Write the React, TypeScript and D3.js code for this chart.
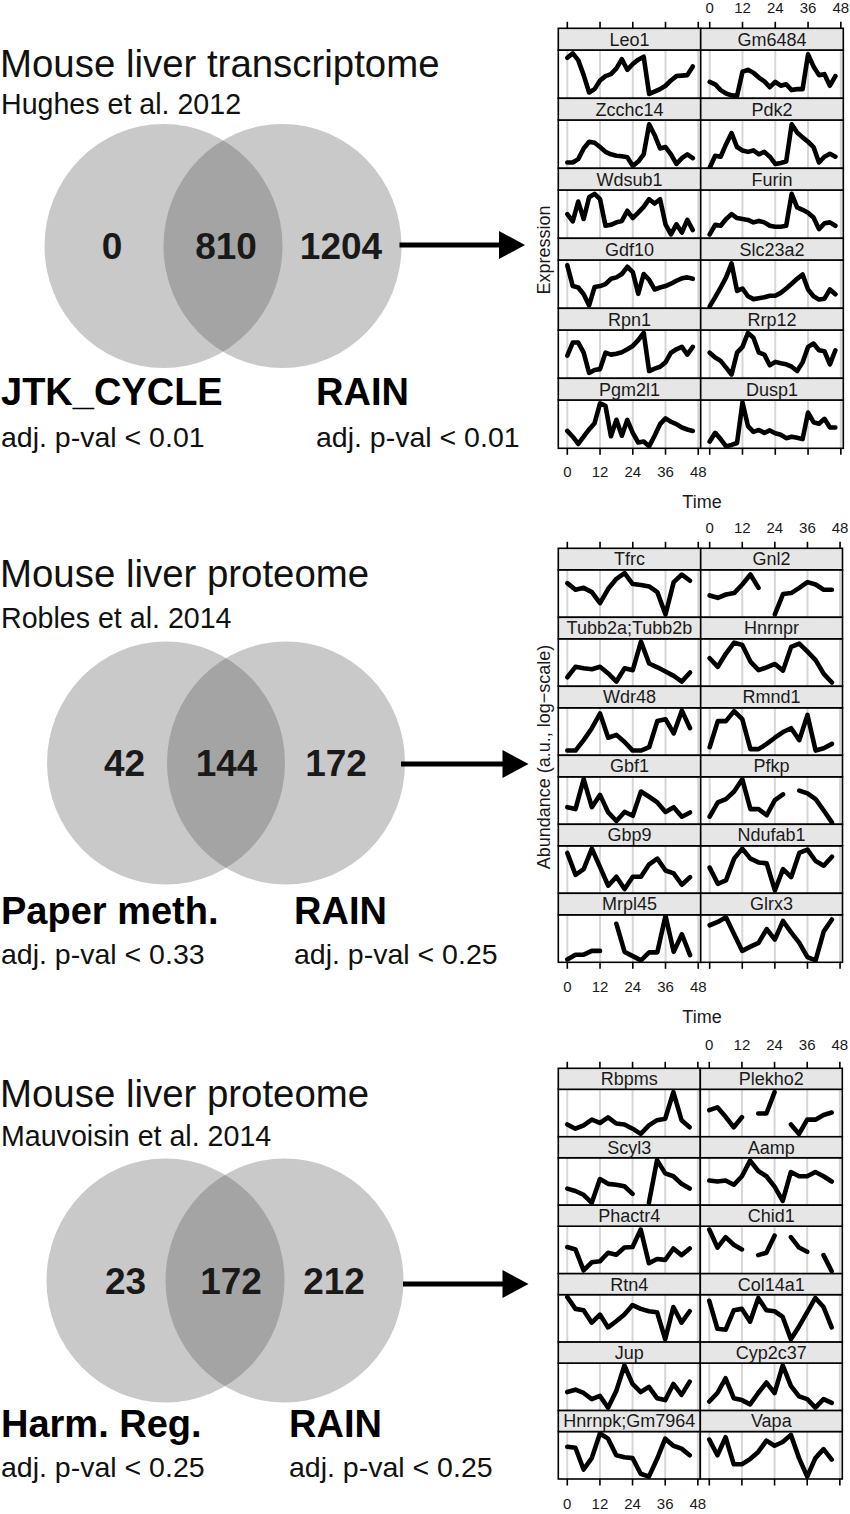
import React from "react";
import * as d3 from "d3";

const FONT = "'Liberation Sans', Arial, Helvetica, sans-serif";

// ---------- time axes ----------
const HOURS_TX = [0, 2, 4, 6, 8, 10, 12, 14, 16, 18, 20, 22, 24, 26, 28, 30, 32, 34, 36, 38, 40, 42, 44, 46];
const HOURS_PR = [0, 3, 6, 9, 12, 15, 18, 21, 24, 27, 30, 33, 36, 39, 42, 45];
const TIME_TICKS = [0, 12, 24, 36, 48];

// ---------- Venn data ----------
const vennTitles = ["Mouse liver transcriptome", "Mouse liver proteome", "Mouse liver proteome"];
const vennSources = ["Hughes et al. 2012", "Robles et al. 2014", "Mauvoisin et al. 2014"];
const vennCounts = [
  [0, 810, 1204],
  [42, 144, 172],
  [23, 172, 212],
];
const methodLeft = ["JTK_CYCLE", "Paper meth.", "Harm. Reg."];
const methodRight = ["RAIN", "RAIN", "RAIN"];
const thresholdLeft = ["adj. p-val < 0.01", "adj. p-val < 0.33", "adj. p-val < 0.25"];
const thresholdRight = ["adj. p-val < 0.01", "adj. p-val < 0.25", "adj. p-val < 0.25"];
const yAxisLabels = ["Expression", "Abundance (a.u., log\u2212scale)", ""];

// ---------- Hughes 2012 transcriptome (relative expression, 2h sampling) ----------
const hughesGenes = ["Leo1", "Gm6484", "Zcchc14", "Pdk2", "Wdsub1", "Furin", "Gdf10", "Slc23a2", "Rpn1", "Rrp12", "Pgm2l1", "Dusp1"];
const hughesSeries: (number | null)[][] = [
  [84, 93, 79, 48, 12, 19, 37, 46, 50, 62, 81, 59, 71, 80, 86, 9, 14, 19, 26, 37, 46, 47, 48, 66],
  [34, 29, 17, 10, 6, 5, 55, 59, 53, 43, 35, 23, 34, 26, 29, 17, 19, 19, 91, 66, 48, 50, 26, 46],
  [12, 12, 19, 41, 55, 53, 44, 34, 29, 26, 25, 23, 5, 14, 29, 91, 69, 41, 44, 29, 9, 21, 29, 21],
  [1, 26, 24, 50, 73, 44, 37, 34, 37, 29, 34, 24, 9, 11, 14, 91, 74, 64, 55, 44, 12, 24, 30, 24],
  [50, 35, 76, 40, 85, 92, 81, 26, 28, 33, 36, 57, 42, 53, 65, 81, 72, 81, 29, 8, 29, 12, 38, 17],
  [8, 28, 26, 40, 50, 42, 40, 38, 33, 36, 33, 26, 24, 24, 26, 92, 64, 59, 53, 43, 19, 31, 33, 26],
  [89, 46, 43, 29, 6, 44, 46, 50, 61, 64, 71, 86, 75, 30, 71, 59, 39, 43, 46, 51, 57, 62, 64, 61],
  [4, 23, 43, 64, 93, 36, 41, 25, 19, 21, 23, 26, 26, 32, 41, 51, 61, 70, 39, 25, 18, 20, 39, 29],
  [47, 74, 74, 53, 11, 17, 19, 53, 49, 51, 54, 60, 67, 79, 94, 15, 20, 24, 33, 53, 60, 65, 49, 65],
  [53, 43, 36, 22, 8, 53, 65, 94, 84, 53, 49, 27, 34, 31, 29, 24, 15, 33, 65, 72, 58, 56, 29, 58],
  [36, 24, 9, 24, 39, 52, 93, 88, 25, 59, 26, 59, 32, 12, 14, 4, 26, 50, 62, 55, 50, 43, 39, 36],
  [14, 32, 19, 4, 7, 11, 95, 46, 34, 38, 32, 37, 31, 28, 21, 24, 22, 19, 74, 54, 51, 61, 43, 43],
];

// ---------- Robles 2014 proteome (3h sampling, null = missing) ----------
const roblesGenes = ["Tfrc", "Gnl2", "Tubb2a;Tubb2b", "Hnrnpr", "Wdr48", "Rmnd1", "Gbf1", "Pfkp", "Gbp9", "Ndufab1", "Mrpl45", "Glrx3"];
const roblesSeries: (number | null)[][] = [
  [72, 58, 62, 53, 30, 60, 81, 93, 70, 68, 65, 53, 6, 74, 90, 77],
  [46, 41, 48, 51, 69, 90, 62, null, 6, 49, 51, 62, 74, 69, 58, 58],
  [19, 41, 38, 36, 41, 27, 10, 38, 34, 94, 48, 40, 31, 22, 10, 29],
  [59, 41, 69, 92, 87, 52, 34, 40, 47, 33, 83, 90, 73, 55, 26, 8],
  [10, 10, 32, 57, 88, 37, 43, 28, 10, 10, 17, 72, 76, 46, 94, 57],
  [17, 72, 72, 93, 76, 13, 13, 24, 37, 49, 57, 32, 85, 10, 15, 24],
  [36, 32, 95, 36, 62, 25, 7, 26, 18, 69, 58, 46, 26, 36, 16, 25],
  [16, 46, 53, 69, 95, 32, 32, 19, 51, 63, null, 71, 65, 53, 29, 4],
  [85, 39, 51, 94, 55, 16, 35, 9, 35, 35, 61, 73, 48, 42, 18, 34],
  [54, 20, 27, 73, 94, 73, 65, 63, 6, 51, 34, 85, 92, 68, 58, 77],
  [6, 16, 16, 24, 24, null, 81, 22, 13, 4, 21, 21, 98, 22, 59, 15],
  [78, 85, 95, 59, 24, 33, 41, 70, 48, 87, 63, 41, 11, 4, 65, 90],
];

// ---------- Mauvoisin 2014 proteome (3h sampling, null = missing) ----------
const mauvoisinGenes = ["Rbpms", "Plekho2", "Scyl3", "Aamp", "Phactr4", "Chid1", "Rtn4", "Col14a1", "Jup", "Cyp2c37", "Hnrnpk;Gm7964", "Vapa"];
const mauvoisinSeries: (number | null)[][] = [
  [26, 17, 24, 36, 29, 41, 28, 26, 17, 6, 24, 35, 38, 94, 35, 20],
  [56, 62, 42, 20, 41, null, 49, 49, 94, null, 26, 6, 36, 36, 46, 51],
  [35, 30, 22, 5, 55, 45, 43, 40, 24, null, 5, 95, 67, 61, 45, 35],
  [52, 50, 52, 43, 61, 94, 72, 61, 39, 9, 70, 61, 61, 70, 61, 50],
  [56, 51, 7, 24, 26, 44, 40, 55, 56, 93, 22, 31, 29, 53, 39, 53],
  [93, 55, 77, 61, 51, null, 39, 44, 80, null, 77, 55, 46, null, 39, 5],
  [95, 70, 67, 41, 58, 31, 44, 58, 78, 70, 65, 63, 6, 74, 41, 65],
  [87, 28, 26, 67, 70, 43, 93, 67, 65, 53, 6, 33, 63, 93, 74, 31],
  [39, 44, 37, 24, 31, 6, 41, 95, 56, 39, 50, 26, 22, 56, 33, 61],
  [19, 37, 68, 26, 22, 13, 37, 59, 37, 95, 52, 30, 24, 6, 24, 16],
  [68, 66, 20, 44, 96, 85, 50, 46, 44, 11, 5, 42, 85, 70, 64, 50],
  [83, 50, 88, 31, 31, 42, 57, 81, 70, 78, 93, 44, 5, 44, 63, 41],
];

// ---------- layout ----------
const VENN_LAYOUT = [
  { titleY: 76.5, srcY: 114.4, cy: 246, cxL: 163.5, cxR: 282.5, rx: 119, ry: 122, numY: 259, numX: [112, 226, 341], arrowY: 245, arrowX1: 399.5, arrowX2: 525, methY: 405.4, rightX: 316, thrY: 446.7 },
  { titleY: 586.5, srcY: 627.8, cy: 763, cxL: 166, cxR: 286, rx: 119, ry: 121.5, numY: 776, numX: [124.6, 226.6, 336], arrowY: 764, arrowX1: 401, arrowX2: 528.5, methY: 924, rightX: 294, thrY: 963.6 },
  { titleY: 1106.5, srcY: 1146.3, cy: 1280.5, cxL: 165.5, cxR: 284.5, rx: 119, ry: 122, numY: 1294.4, numX: [125.6, 231, 334], arrowY: 1284, arrowX1: 403, arrowX2: 528.5, methY: 1437.3, rightX: 289, thrY: 1476.9 },
];

const SM_LAYOUT = [
  { left: 558.3, mid: 700.7, right: 843.3, top: 28.3, rowH: 70, stripH: 21.7, topLabY: 13, botLabY: 477.3, timeY: 508, ylabY: 250 },
  { left: 558.3, mid: 700.7, right: 842.5, top: 548.3, rowH: 69, stripH: 21.5, topLabY: 533.3, botLabY: 992.3, timeY: 1023, ylabY: 757 },
  { left: 558.3, mid: 700.3, right: 842.3, top: 1068.3, rowH: 68.45, stripH: 21, topLabY: 1050, botLabY: 1509, timeY: null as number | null, ylabY: null as number | null },
];

const X_DOMAIN: [number, number] = [-3.3, 48.9];

function Venn({ idx }: { idx: number }) {
  const L = VENN_LAYOUT[idx];
  const clipId = `venn-clip-${idx}`;
  const counts = vennCounts[idx];
  return (
    <g>
      <defs>
        <clipPath id={clipId}>
          <ellipse cx={L.cxL} cy={L.cy} rx={L.rx} ry={L.ry} />
        </clipPath>
      </defs>
      <text x={0} y={L.titleY} fontSize={38.4} fontFamily={FONT} fill="#111">{vennTitles[idx]}</text>
      <text x={1} y={L.srcY} fontSize={28.6} fontFamily={FONT} fill="#111">{vennSources[idx]}</text>
      <ellipse cx={L.cxL} cy={L.cy} rx={L.rx} ry={L.ry} fill="#c9c9c9" />
      <ellipse cx={L.cxR} cy={L.cy} rx={L.rx} ry={L.ry} fill="#c9c9c9" />
      <ellipse cx={L.cxR} cy={L.cy} rx={L.rx} ry={L.ry} fill="#a4a4a4" clipPath={`url(#${clipId})`} />
      {counts.map((c, i) => (
        <text key={i} x={L.numX[i]} y={L.numY} fontSize={37} fontWeight="bold" fontFamily={FONT} textAnchor="middle" fill="#1a1a1a">{c}</text>
      ))}
      <line x1={L.arrowX1} x2={L.arrowX2 - 22} y1={L.arrowY} y2={L.arrowY} stroke="#000" strokeWidth={5} />
      <path d={`M${L.arrowX2 - 26},${L.arrowY - 14}L${L.arrowX2},${L.arrowY}L${L.arrowX2 - 26},${L.arrowY + 14}Z`} fill="#000" />
      <text x={1} y={L.methY} fontSize={38} fontWeight="bold" fontFamily={FONT} fill="#000">{methodLeft[idx]}</text>
      <text x={L.rightX} y={L.methY} fontSize={38} fontWeight="bold" fontFamily={FONT} fill="#000">{methodRight[idx]}</text>
      <text x={1} y={L.thrY} fontSize={28.5} fontFamily={FONT} fill="#111">{thresholdLeft[idx]}</text>
      <text x={L.rightX} y={L.thrY} fontSize={28.5} fontFamily={FONT} fill="#111">{thresholdRight[idx]}</text>
    </g>
  );
}

function Multiples({ idx, genes, series, hours }: { idx: number; genes: string[]; series: (number | null)[][]; hours: number[] }) {
  const L = SM_LAYOUT[idx];
  const cols: [number, number][] = [[L.left, L.mid], [L.mid, L.right]];
  const nRows = Math.ceil(genes.length / 2);
  const bottom = L.top + nRows * L.rowH;
  const xScales = cols.map((c) => d3.scaleLinear().domain(X_DOMAIN).range(c));
  return (
    <g fontFamily={FONT}>
      {genes.map((g, i) => {
        const r = Math.floor(i / 2);
        const c = i % 2;
        const [x0, x1] = cols[c];
        const x = xScales[c];
        const sTop = L.top + r * L.rowH;
        const pTop = sTop + L.stripH;
        const pBot = sTop + L.rowH;
        const y = d3.scaleLinear().domain([0, 100]).range([pBot, pTop]);
        const line = d3
          .line<number | null>()
          .defined((v) => v != null)
          .x((_, k) => x(hours[k]))
          .y((v) => y(v as number));
        const clip = `sm-clip-${idx}-${i}`;
        return (
          <g key={g}>
            <defs>
              <clipPath id={clip}>
                <rect x={x0} y={pTop} width={x1 - x0} height={pBot - pTop} />
              </clipPath>
            </defs>
            <rect x={x0} y={pTop} width={x1 - x0} height={pBot - pTop} fill="#fff" />
            {TIME_TICKS.map((t) => (
              <line key={t} x1={x(t)} x2={x(t)} y1={pTop} y2={pBot} stroke="#d6d6d6" strokeWidth={2} clipPath={`url(#${clip})`} />
            ))}
            <path d={line(series[i]) || ""} fill="none" stroke="#000" strokeWidth={4.6} strokeLinejoin="round" strokeLinecap="round" clipPath={`url(#${clip})`} />
            <rect x={x0} y={pTop} width={x1 - x0} height={pBot - pTop} fill="none" stroke="#000" strokeWidth={1.6} />
            <rect x={x0} y={sTop} width={x1 - x0} height={L.stripH} fill="#e6e6e6" stroke="#000" strokeWidth={1.6} />
            <text x={(x0 + x1) / 2} y={sTop + L.stripH / 2 + 6.4} fontSize={18} textAnchor="middle" fill="#1a1a1a">{g}</text>
          </g>
        );
      })}
      {xScales.map((x, c) => (
        <g key={c}>
          {TIME_TICKS.map((t) => (
            <g key={t}>
              <line x1={x(t)} x2={x(t)} y1={L.top - 6.5} y2={L.top} stroke="#000" strokeWidth={1.6} />
              <line x1={x(t)} x2={x(t)} y1={bottom} y2={bottom + 6.5} stroke="#000" strokeWidth={1.6} />
              {c === 1 && (
                <text x={x(t)} y={L.topLabY} fontSize={15} textAnchor="middle" fill="#1a1a1a">{t}</text>
              )}
              {c === 0 && (
                <text x={x(t)} y={L.botLabY} fontSize={15} textAnchor="middle" fill="#1a1a1a">{t}</text>
              )}
            </g>
          ))}
        </g>
      ))}
      {L.timeY != null && (
        <text x={702} y={L.timeY} fontSize={18} textAnchor="middle" fill="#1a1a1a">Time</text>
      )}
      {L.ylabY != null && yAxisLabels[idx] && (
        <text transform={`translate(549.5,${L.ylabY}) rotate(-90)`} fontSize={18} textAnchor="middle" fill="#1a1a1a">{yAxisLabels[idx]}</text>
      )}
    </g>
  );
}

export default function App() {
  return (
    <svg width={850} height={1514} style={{ position: "absolute", left: 0, top: 0, background: "#fff" }}>
      <rect x={0} y={0} width={850} height={1514} fill="#fff" />
      <Venn idx={0} />
      <Venn idx={1} />
      <Venn idx={2} />
      <Multiples idx={0} genes={hughesGenes} series={hughesSeries} hours={HOURS_TX} />
      <Multiples idx={1} genes={roblesGenes} series={roblesSeries} hours={HOURS_PR} />
      <Multiples idx={2} genes={mauvoisinGenes} series={mauvoisinSeries} hours={HOURS_PR} />
    </svg>
  );
}
